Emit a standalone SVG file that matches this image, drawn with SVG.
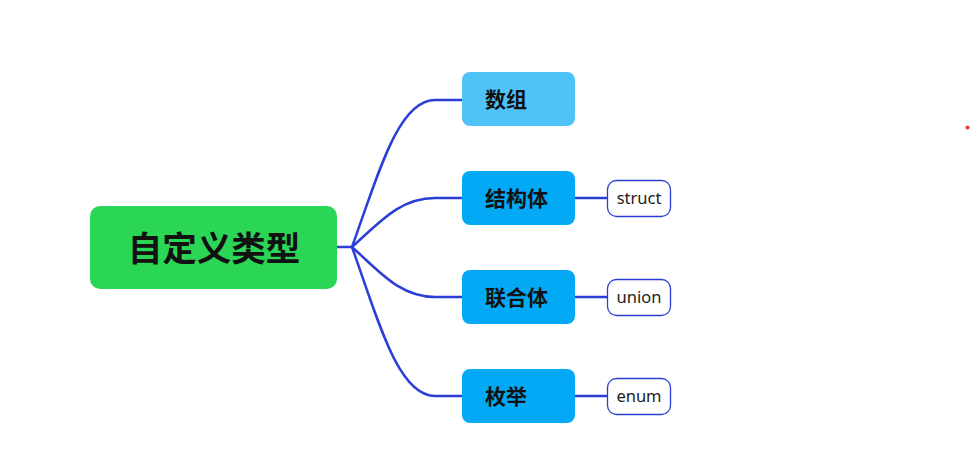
<svg xmlns="http://www.w3.org/2000/svg" width="977" height="470" viewBox="0 0 977 470">
<style>
.conn{fill:none;stroke:#2b3fd6;stroke-width:2.5;stroke-linecap:round}
.cn{font-family:"Noto Sans CJK SC","Noto Sans",sans-serif;font-weight:bold;fill:#111}
.leaf rect{fill:#fff;stroke:#2b3fd6;stroke-width:1.3}
.leaf text{font-family:"Noto Sans","Liberation Sans",sans-serif;font-size:16.5px;fill:#222;text-anchor:middle}
</style>
<rect width="977" height="470" fill="#fff"/>
<g id="connectors">
<path class="conn" d="M337,247 L352,247"/>
<path class="conn" d="M352,247 C378,175 398,100 435,100 L462,100"/>
<path class="conn" d="M352,247 C380,222 400,198 435,198 L462,198"/>
<path class="conn" d="M352,247 C380,272 400,297 435,297 L462,297"/>
<path class="conn" d="M352,247 C378,320 398,396 435,396 L462,396"/>
<path class="conn" d="M575,198 L607,198"/>
<path class="conn" d="M575,297 L607,297"/>
<path class="conn" d="M575,396 L607,396"/>
</g>
<g id="root">
<rect x="90" y="206" width="247" height="83" rx="10" fill="#2bd555"/>
<text class="cn" x="214" y="261" font-size="34.5" text-anchor="middle">自定义类型</text>
</g>
<g id="n-array">
<rect x="462" y="72" width="113" height="54" rx="8" fill="#4fc3f7"/>
<text class="cn" x="485" y="107" font-size="21">数组</text>
</g>
<g id="n-struct">
<rect x="462" y="171" width="113" height="54" rx="8" fill="#03a9f4"/>
<text class="cn" x="485" y="206" font-size="21">结构体</text>
</g>
<g id="n-union">
<rect x="462" y="270" width="113" height="54" rx="8" fill="#03a9f4"/>
<text class="cn" x="485" y="305" font-size="21">联合体</text>
</g>
<g id="n-enum">
<rect x="462" y="369" width="113" height="54" rx="8" fill="#03a9f4"/>
<text class="cn" x="485" y="404" font-size="21">枚举</text>
</g>
<g id="l-struct" class="leaf">
<rect x="607.5" y="180.5" width="63" height="36" rx="9"/>
<text x="639" y="204">struct</text>
</g>
<g id="l-union" class="leaf">
<rect x="607.5" y="279.5" width="63" height="36" rx="9"/>
<text x="639" y="303">union</text>
</g>
<g id="l-enum" class="leaf">
<rect x="607.5" y="378.5" width="63" height="36" rx="9"/>
<text x="639" y="402">enum</text>
</g>
<circle cx="967.5" cy="127.5" r="2" fill="#e53935"/>
</svg>
